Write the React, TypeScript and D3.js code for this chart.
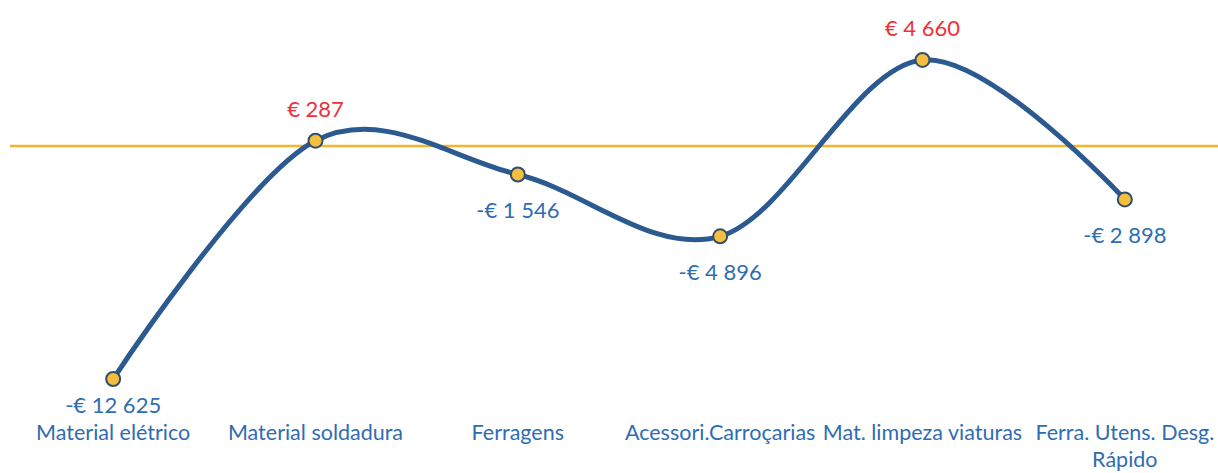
import React, { useEffect, useRef } from 'react';
import * as d3 from 'd3';

const categories = [
  'Material elétrico',
  'Material soldadura',
  'Ferragens',
  'Acessori.Carroçarias',
  'Mat. limpeza viaturas',
  'Ferra. Utens. Desg. Rápido',
];
const values = [-12625, 287, -1546, -4896, 4660, -2898];
// wrapped category labels as shown on the axis
const categoryLines = [
  ['Material elétrico'],
  ['Material soldadura'],
  ['Ferragens'],
  ['Acessori.Carroçarias'],
  ['Mat. limpeza viaturas'],
  ['Ferra. Utens. Desg.', 'Rápido'],
];

const fmt = (v: number) => {
  const s = d3.format(',')(Math.abs(v)).replace(/,/g, ' ');
  return (v < 0 ? '-€ ' : '€ ') + s;
};

const App = () => {
  const ref = useRef<SVGSVGElement>(null);

  useEffect(() => {
    const width = 1218;
    const height = 473;
    const svg = d3.select(ref.current);
    svg.selectAll('*').remove();
    svg.attr('width', width).attr('height', height);

    const font = "Lato, 'Open Sans', sans-serif";

    const x = d3.scaleBand().domain(categories).range([12, 1226]);
    const cx = (c: string) => (x(c) as number) + x.bandwidth() / 2;

    const y = d3.scaleLinear().domain([-14000, 6000]).range([404.4, 35.2]);

    // zero line
    svg.append('line')
      .attr('x1', 10)
      .attr('x2', width)
      .attr('y1', y(0))
      .attr('y2', y(0))
      .attr('stroke', '#f2b52e')
      .attr('stroke-width', 2.5);

    const data = categories.map((c, i) => ({ c, v: values[i] }));

    const line = d3.line<{ c: string; v: number }>()
      .x(d => cx(d.c))
      .y(d => y(d.v))
      .curve(d3.curveCardinal.tension(0));

    svg.append('path')
      .datum(data)
      .attr('fill', 'none')
      .attr('stroke', '#2b5a90')
      .attr('stroke-width', 5)
      .attr('d', line);

    svg.append('g')
      .selectAll('circle')
      .data(data)
      .join('circle')
        .attr('cx', d => cx(d.c))
        .attr('cy', d => y(d.v))
        .attr('r', 7)
        .attr('fill', '#f6be3f')
        .attr('stroke', '#2f4f6a')
        .attr('stroke-width', 2);

    // value labels
    svg.append('g')
      .selectAll('text')
      .data(data)
      .join('text')
        .attr('x', d => cx(d.c))
        .attr('y', d => d.v >= 0 ? y(d.v) - 24 : Math.min(y(d.v) + 44, 413))
        .attr('text-anchor', 'middle')
        .attr('font-family', font)
        .attr('font-size', 22)
        .attr('fill', d => d.v >= 0 ? '#ee3038' : '#2f6db3')
        .text(d => fmt(d.v));

    // category labels
    const cat = svg.append('g')
      .selectAll('text')
      .data(categories)
      .join('text')
        .attr('x', d => cx(d))
        .attr('y', 440)
        .attr('text-anchor', 'middle')
        .attr('font-family', font)
        .attr('font-size', 21.5)
        .attr('fill', '#2f6db3');
    cat.each(function (d, i) {
      d3.select(this)
        .selectAll('tspan')
        .data(categoryLines[i])
        .join('tspan')
          .attr('x', cx(d))
          .attr('dy', (_, j) => (j === 0 ? 0 : 27))
          .text(t => t);
    });
  }, []);

  return (
    <div style={{ position: 'absolute', left: 0, top: 0, background: '#fff' }}>
      <svg ref={ref} style={{ display: 'block' }}></svg>
    </div>
  );
};

export default App;
